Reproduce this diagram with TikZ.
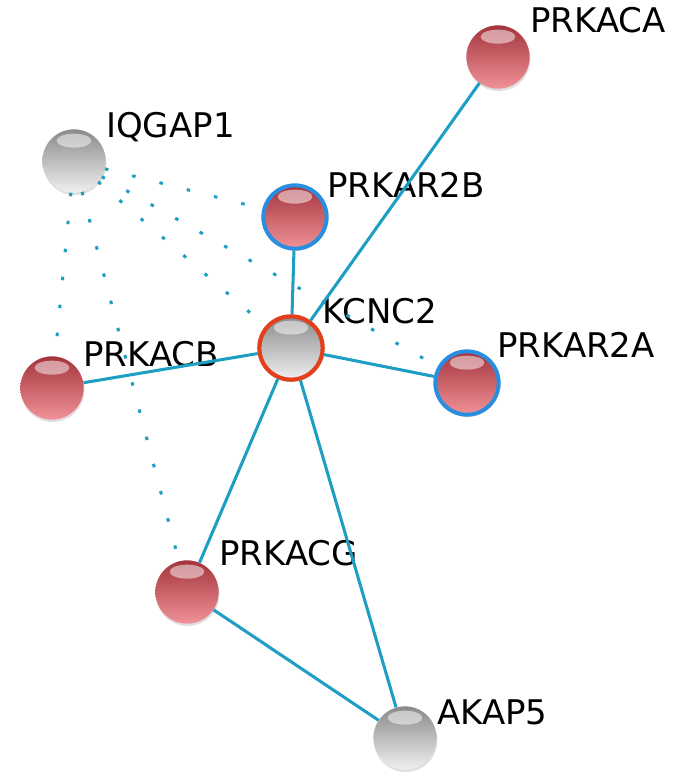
\documentclass[tikz,border=0pt]{standalone}
\usepackage{fontspec}
\setmainfont{DejaVu Sans}
\usetikzlibrary{shadows}
\definecolor{edgeblue}{HTML}{1E9EC2}
\definecolor{ringblue}{HTML}{2A8EE0}
\definecolor{ringred}{HTML}{E2401C}
\definecolor{redtop}{HTML}{A4343C}
\definecolor{redmid}{HTML}{D8646C}
\definecolor{redbot}{HTML}{F09298}
\definecolor{graytop}{HTML}{8A8A8A}
\definecolor{graymid}{HTML}{C4C4C4}
\definecolor{graybot}{HTML}{F0F0F0}
\tikzset{
  ball/.style={circle,minimum size=1.9cm,inner sep=0pt,
    drop shadow={opacity=0.25,shadow xshift=0.02cm,shadow yshift=-0.07cm},
    path picture={\fill[white,opacity=0.5] ([yshift=-0.34cm]path picture bounding box.north) ellipse [x radius=0.52cm,y radius=0.21cm];}},
  redball/.style={ball,top color=redtop,middle color=redmid,bottom color=redbot},
  grayball/.style={ball,top color=graytop,middle color=graymid,bottom color=graybot},
  bluering/.style={draw=ringblue,line width=3.4pt},
  redring/.style={draw=ringred,line width=3.6pt},
  protname/.style={anchor=base west,inner sep=0pt,font=\fontsize{29}{34}\selectfont},
  edge/.style={edgeblue,line width=2.6pt},
  dotedge/.style={edgeblue,line width=2.6pt,dash pattern=on 3pt off 21pt}
}
\begin{document}
\begin{tikzpicture}[x=0.03cm,y=-0.03cm]
  \useasboundingbox (0,0) rectangle (675,783);
  % proteins
  \node[redball] (prkaca) at (498,57) {};
  \node[grayball] (iqgap1) at (74,161) {};
  \node[redball,bluering] (prkar2b) at (295,217) {};
  \node[grayball,redring] (kcnc2) at (291,348) {};
  \node[redball,bluering] (prkar2a) at (467,383) {};
  \node[redball] (prkacb) at (52,388) {};
  \node[redball] (prkacg) at (187,592) {};
  \node[grayball] (akap5) at (405,738) {};
  % names
  \node[protname] (tprkaca) at (530,32) {PRKACA};
  \node[protname] (tiqgap1) at (106,137) {IQGAP1};
  \node[protname] (tprkar2b) at (327,197) {PRKAR2B};
  \node[protname] (tkcnc2) at (322,323) {KCNC2};
  \node[protname] (tprkar2a) at (497,357) {PRKAR2A};
  \node[protname] (tprkacb) at (83,366) {PRKACB};
  \node[protname] (tprkacg) at (219,565) {PRKACG};
  \node[protname] (takap5) at (437,724) {AKAP5};
  % solid links
  \draw[edge] (kcnc2)--(prkaca);
  \draw[edge] (kcnc2)--(prkar2b);
  \draw[edge] (kcnc2)--(prkar2a);
  \draw[edge] (kcnc2)--(prkacb);
  \draw[edge] (kcnc2)--(prkacg);
  \draw[edge] (kcnc2)--(akap5);
  \draw[edge] (prkacg)--(akap5);
  % dotted links
  \draw[dotedge] (iqgap1)--(prkar2b);
  \draw[dotedge] (iqgap1)--(prkar2a);
  \draw[dotedge] (iqgap1)--(kcnc2);
  \draw[dotedge] (iqgap1)--(prkacg);
  \draw[dotedge] (iqgap1)--(prkacb);
\end{tikzpicture}
\end{document}
